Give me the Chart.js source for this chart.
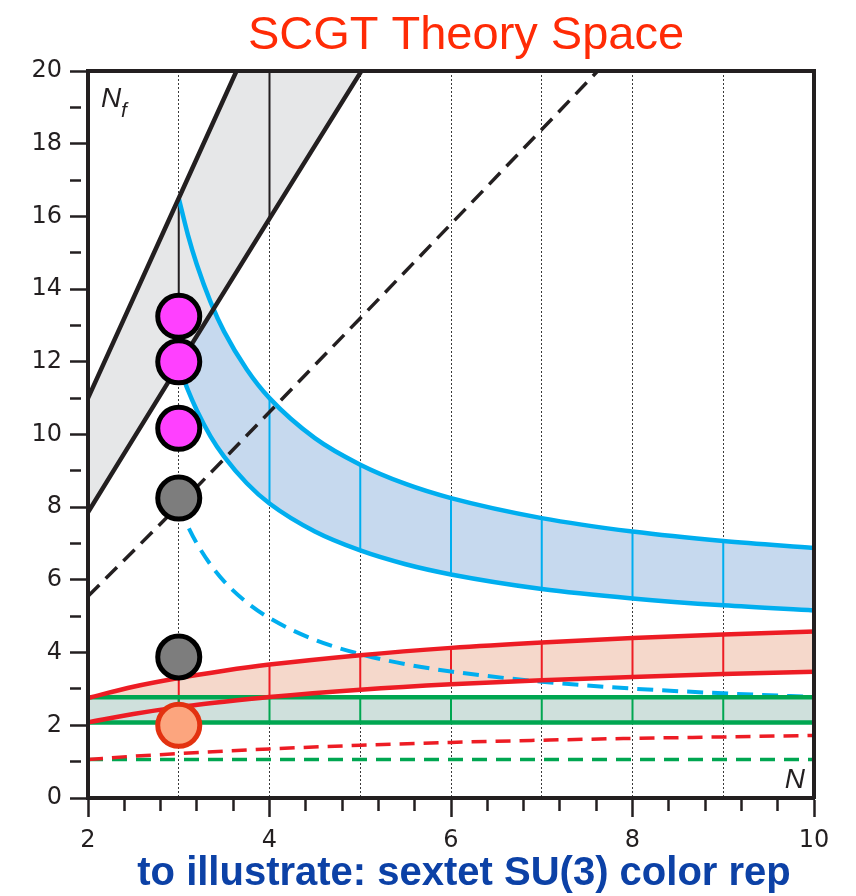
<!DOCTYPE html>
<html>
<head>
<meta charset="utf-8">
<title>SCGT Theory Space</title>
<script src="https://cdn.jsdelivr.net/npm/chart.js@4.4.1/dist/chart.umd.min.js"></script>
<style>
  html, body { margin: 0; padding: 0; background: #ffffff; }
  canvas { display: block; }
</style>
</head>
<body>
<canvas id="chart" width="856" height="896"></canvas>
<script>
// ---- Conformal-window bounds, N_f versus number of colours N ----

// Fundamental representation (black band)
const fundN      = [2, 3, 4, 5, 5.1];
const fundUpper  = [11, 16.5, 22, 27.5, 28.05];
const fundLower  = [7.86, 11.91, 15.94, 19.95, 20.35];
const fundDashN  = [2, 3, 4, 5, 6, 7, 8];
const fundDashed = [5.55, 8.05, 10.62, 13.2, 15.79, 18.39, 21.0];

// Two-index antisymmetric representation (blue band)
const antiN      = [3, 3.1, 3.2, 3.35, 3.5, 3.75, 4, 4.5, 5, 5.5, 6, 7, 8, 9, 10];
const antiUpper  = [16.5, 15.5, 14.67, 13.65, 12.83, 11.79, 11.0, 9.9, 9.17, 8.64, 8.25, 7.7, 7.33, 7.07, 6.88];
const antiLower  = [11.91, 11.23, 10.66, 9.95, 9.39, 8.66, 8.10, 7.33, 6.81, 6.43, 6.15, 5.75, 5.49, 5.30, 5.16];
const antiDashed = [8.05, 7.48, 7.00, 6.42, 5.96, 5.38, 4.95, 4.35, 3.96, 3.68, 3.48, 3.20, 3.01, 2.88, 2.78];

// Two-index symmetric representation (red band)
const symN      = [2, 2.5, 3, 3.5, 4, 5, 6, 7, 8, 9, 10];
const symUpper  = [2.75, 3.06, 3.3, 3.5, 3.67, 3.93, 4.13, 4.28, 4.4, 4.5, 4.58];
const symLower  = [2.08, 2.31, 2.5, 2.65, 2.78, 2.98, 3.13, 3.24, 3.33, 3.41, 3.47];
const symDashed = [1.06, 1.15, 1.22, 1.29, 1.35, 1.45, 1.53, 1.59, 1.64, 1.68, 1.72];

// Adjoint representation (green band)
const adjN      = [2, 3, 4, 5, 6, 7, 8, 9, 10];
const adjUpper  = [2.77, 2.77, 2.77, 2.77, 2.77, 2.77, 2.77, 2.77, 2.77];
const adjLower  = [2.08, 2.08, 2.08, 2.08, 2.08, 2.08, 2.08, 2.08, 2.08];
const adjDashed = [1.06, 1.06, 1.06, 1.06, 1.06, 1.06, 1.06, 1.06, 1.06];

// Integer N where each band gets a vertical rung
const fundRungs = [3, 4];
const antiRungs = [4, 5, 6, 7, 8, 9];
const symRungs  = [3, 4, 5, 6, 7, 8, 9];
const adjRungs  = [3, 4, 5, 6, 7, 8, 9];

// SU(3) theories marked at N = 3
const markerN  = [3, 3, 3, 3, 3, 3];
const markerNf = [13.25, 12.0, 10.17, 8.25, 3.88, 2.0];

// Axis ticks
const xTickLabels = [2, 4, 6, 8, 10];
const xMinorTicks = [2.4, 2.8, 3.2, 3.6, 4.4, 4.8, 5.2, 5.6, 6.4, 6.8, 7.2, 7.6, 8.4, 8.8, 9.2, 9.6];
const xGuideLines = [3, 4, 5, 6, 7, 8, 9];
const yTickLabels = [0, 2, 4, 6, 8, 10, 12, 14, 16, 18, 20];

const titleText   = 'SCGT Theory Space';
const captionText = 'to illustrate: sextet SU(3) color rep';

// ---- styles ----
const INK = '#231f20';
const C = {
  black: INK, blue: '#00aeef', red: '#ed1c24', green: '#00a651',
  grayFill: '#e6e7e8', blueFill: '#c6d9ee', redFill: '#f5d8cb', greenFill: '#cfe0dc'
};
const markerFill   = ['#ff40ff', '#ff40ff', '#ff40ff', '#7d7d7d', '#7d7d7d', '#fca57e'];
const markerBorder = ['#000000', '#000000', '#000000', '#000000', '#000000', '#e33210'];

// ---- helpers ----
const pts = (xs, ys) => xs.map((x, i) => ({ x: x, y: ys[i] }));

function rungPoints(xs, lo, hi, at) {
  const out = [];
  at.forEach(n => {
    const i = xs.indexOf(n);
    out.push({ x: n, y: lo[i] }, { x: n, y: hi[i] }, { x: n, y: null });
  });
  return out;
}

const datasets = [];
function add(ds) {
  datasets.push(Object.assign({
    pointRadius: 0, pointHoverRadius: 0, fill: false, borderWidth: 0,
    borderColor: 'rgba(0,0,0,0)'
  }, ds));
}

// shaded bands (fill only, drawn first)
function band(xs, lo, hi, color) {
  add({ data: pts(xs, lo), cubicInterpolationMode: 'monotone' });
  add({ data: pts(xs, hi), cubicInterpolationMode: 'monotone', fill: '-1', backgroundColor: color });
}
band(antiN, antiLower, antiUpper, C.blueFill);
band(fundN, fundLower, fundUpper, C.grayFill);
band(symN, symLower, symUpper, C.redFill);
band(adjN, adjLower, adjUpper, C.greenFill);

// rungs
add({ data: rungPoints(fundN, fundLower, fundUpper, fundRungs), borderColor: C.black, borderWidth: 2 });
add({ data: rungPoints(antiN, antiLower, antiUpper, antiRungs), borderColor: C.blue, borderWidth: 2 });
add({ data: rungPoints(symN, symLower, symUpper, symRungs), borderColor: C.red, borderWidth: 2 });
add({ data: rungPoints(adjN, adjLower, adjUpper, adjRungs), borderColor: C.green, borderWidth: 2 });

// dashed curves
add({ data: pts(adjN, adjDashed), borderColor: C.green, borderWidth: 3.5, borderDash: [15, 9] });
add({ data: pts(symN, symDashed), borderColor: C.red, borderWidth: 3.5, borderDash: [15, 9], cubicInterpolationMode: 'monotone' });
add({ data: pts(antiN, antiDashed), borderColor: C.blue, borderWidth: 4, borderDash: [16, 9], cubicInterpolationMode: 'monotone' });
add({ data: pts(fundDashN, fundDashed), borderColor: C.black, borderWidth: 3.5, borderDash: [16, 9], cubicInterpolationMode: 'monotone' });

// solid band edges
add({ data: pts(antiN, antiLower), borderColor: C.blue, borderWidth: 4.5, cubicInterpolationMode: 'monotone' });
add({ data: pts(antiN, antiUpper), borderColor: C.blue, borderWidth: 4.5, cubicInterpolationMode: 'monotone' });
add({ data: pts(adjN, adjLower), borderColor: C.green, borderWidth: 4.5 });
add({ data: pts(adjN, adjUpper), borderColor: C.green, borderWidth: 4.5 });
add({ data: pts(symN, symLower), borderColor: C.red, borderWidth: 4.5, cubicInterpolationMode: 'monotone' });
add({ data: pts(symN, symUpper), borderColor: C.red, borderWidth: 4.5, cubicInterpolationMode: 'monotone' });
add({ data: pts(fundN, fundLower), borderColor: C.black, borderWidth: 4.5, cubicInterpolationMode: 'monotone' });
add({ data: pts(fundN, fundUpper), borderColor: C.black, borderWidth: 4.5, cubicInterpolationMode: 'monotone' });

// SU(3) markers
add({
  data: pts(markerN, markerNf), showLine: false,
  pointRadius: 21, pointHoverRadius: 21, pointBorderWidth: 5, pointHoverBorderWidth: 5,
  pointBackgroundColor: markerFill, pointBorderColor: markerBorder,
  pointHoverBackgroundColor: markerFill, pointHoverBorderColor: markerBorder
});

// later entries are painted on top
datasets.forEach((d, i) => { d.order = datasets.length - i; });

// ---- axis text and headings ----
const textPlugin = {
  id: 'chartText',
  afterDraw(chart) {
    const ctx = chart.ctx;
    const a = chart.chartArea;
    ctx.save();
    ctx.textBaseline = 'alphabetic';

    ctx.textAlign = 'center';
    ctx.fillStyle = '#ff2b06';
    ctx.font = '47px "Liberation Sans", Arial, sans-serif';
    ctx.fillText(titleText, 466, 49);

    ctx.fillStyle = '#0c41a6';
    ctx.font = 'bold 40px "Liberation Sans", Arial, sans-serif';
    ctx.fillText(captionText, 464, 885);

    ctx.fillStyle = INK;
    ctx.textAlign = 'left';
    ctx.font = 'italic 28px "Liberation Sans", Arial, sans-serif';
    ctx.fillText('N', a.left + 13, a.top + 36);
    ctx.font = 'italic 21px "Liberation Sans", Arial, sans-serif';
    ctx.fillText('f', a.left + 33, a.top + 46);

    ctx.textAlign = 'right';
    ctx.font = 'italic 28px "Liberation Sans", Arial, sans-serif';
    ctx.fillText('N', a.right - 9, a.bottom - 10);
    ctx.restore();
  }
};

const xTicks = Array.from(new Set(xTickLabels.concat(xMinorTicks, xGuideLines))).sort((p, q) => p - q);
const tickFont = { family: 'DejaVu Sans', size: 24 };
const tickVal = ctx => (ctx && ctx.tick) ? ctx.tick.value : null;

new Chart(document.getElementById('chart'), {
  type: 'line',
  data: { datasets: datasets },
  plugins: [textPlugin],
  options: {
    responsive: false,
    devicePixelRatio: 1,
    animation: false,
    events: [],
    layout: { padding: { top: 71, right: 42, bottom: 38, left: 0 } },
    plugins: {
      legend: { display: false },
      title: { display: false },
      tooltip: { enabled: false },
      filler: { drawTime: 'beforeDatasetsDraw', propagate: false }
    },
    scales: {
      x: {
        type: 'linear', position: 'bottom', min: 2, max: 10,
        afterBuildTicks: s => { s.ticks = xTicks.map(v => ({ value: v })); },
        afterFit: s => { s.height = 60; },
        ticks: {
          autoSkip: false, maxRotation: 0, minRotation: 0, padding: 9,
          font: tickFont, color: INK,
          callback: v => xTickLabels.includes(v) ? String(v) : ''
        },
        grid: {
          drawOnChartArea: true,
          lineWidth: 1,
          color: ctx => xGuideLines.includes(tickVal(ctx)) ? '#3a3a3a' : 'rgba(0,0,0,0)',
          tickLength: 19,
          tickWidth: 2.5,
          tickColor: ctx => {
            const v = tickVal(ctx);
            return (xTickLabels.includes(v) || xMinorTicks.includes(v)) ? INK : 'rgba(0,0,0,0)';
          },
          tickBorderDash: ctx => xMinorTicks.includes(tickVal(ctx)) ? [11, 100] : []
        },
        border: { display: true, width: 4, color: INK, z: 1, dash: [2, 2] }
      },
      y: {
        type: 'linear', position: 'left', min: 0, max: 20,
        afterFit: s => { s.width = 88; },
        ticks: {
          stepSize: 1, autoSkip: false, padding: 8,
          font: tickFont, color: INK,
          callback: v => yTickLabels.includes(v) ? String(v) : ''
        },
        grid: {
          drawOnChartArea: false,
          tickLength: 18,
          tickWidth: 2.5,
          tickColor: INK,
          tickBorderDash: ctx => {
            const v = tickVal(ctx);
            return (v !== null && !yTickLabels.includes(v)) ? [11, 100] : [];
          }
        },
        border: { display: true, width: 4, color: INK, z: 1 }
      },
      xTop: {
        type: 'linear', position: 'top', min: 2, max: 10,
        afterFit: s => { s.height = 0; },
        ticks: { display: false },
        grid: { drawOnChartArea: false, drawTicks: false },
        border: { display: true, width: 4, color: INK, z: 1 }
      },
      yRight: {
        type: 'linear', position: 'right', min: 0, max: 20,
        afterFit: s => { s.width = 0; },
        ticks: { display: false },
        grid: { drawOnChartArea: false, drawTicks: false },
        border: { display: true, width: 4, color: INK, z: 1 }
      }
    }
  }
});
</script>
</body>
</html>
